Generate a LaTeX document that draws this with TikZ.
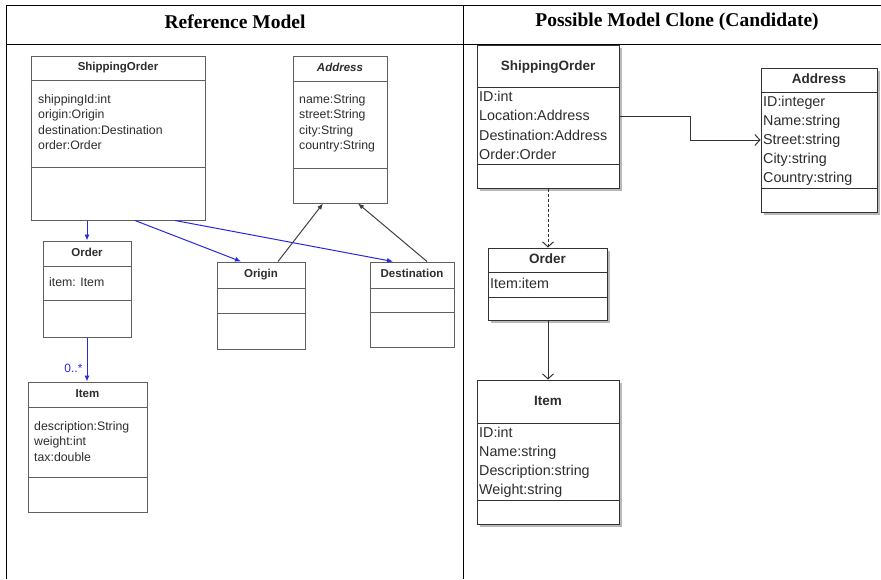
\documentclass[tikz,border=0pt]{standalone}
\usepackage{fontspec}
\setmainfont{Liberation Serif}
\setsansfont{Liberation Sans}
\usetikzlibrary{fit,shadows,arrows.meta,calc}
\definecolor{boxgray}{RGB}{95,95,95}
\definecolor{txtgray}{RGB}{45,45,45}
\definecolor{umlblue}{RGB}{40,40,225}
\definecolor{shadowgray}{RGB}{185,185,185}
\tikzset{
  tableline/.style={draw=black,line width=0.9pt},
  lbox/.style={draw=boxgray,line width=1pt,inner sep=0pt,fill=white},
  rbox/.style={draw=black!80,line width=1pt,inner sep=0pt,fill=white,
    drop shadow={shadow xshift=3pt,shadow yshift=-3pt,fill=shadowgray,opacity=1}},
  lsep/.style={draw=boxgray,line width=1pt},
  rsep/.style={draw=black!80,line width=1pt},
  ltitle/.style={font=\sffamily\bfseries\fontsize{11.5}{13}\selectfont,text=txtgray,inner sep=0pt,text height=8.5pt,text depth=2.5pt},
  lattr/.style={font=\sffamily\fontsize{12.3}{14}\selectfont,text=txtgray,anchor=west,inner sep=0pt,text height=9pt,text depth=2.6pt},
  rtitle/.style={font=\sffamily\bfseries\fontsize{13.5}{15}\selectfont,text=txtgray,inner sep=0pt,text height=10pt,text depth=3pt},
  rattr/.style={font=\sffamily\fontsize{14.3}{16}\selectfont,text=txtgray,anchor=west,inner sep=0pt,text height=10.5pt,text depth=3pt},
  header/.style={font=\bfseries\fontsize{19.5}{22}\selectfont,inner sep=0pt},
  bluearrow/.style={draw=umlblue,line width=1pt,-{Latex[length=6pt,width=5pt]}},
  blackarrow/.style={draw=black!75,line width=1pt,-{Latex[length=6pt,width=5pt]}},
  openarrow/.style={draw=black!80,line width=1pt,-{Straight Barb[length=5pt,width=11pt]}},
}
\begin{document}
\begin{tikzpicture}[x=1pt,y=-1pt]
\useasboundingbox (0,0) rectangle (881,579);
% table
\draw[tableline] (6,5) -- (881,5);
\draw[tableline] (6,44) -- (881,44);
\draw[tableline] (6,5) -- (6,579);
\draw[tableline] (463,5) -- (463,579);
\node[header] (h1) at (235,22) {Reference Model};
\node[header] (h2) at (677,22) {Possible Model Clone (Candidate)};

% ---------- left: reference model ----------
% ShippingOrder
\node[lbox,fit={(31,56) (205,220)}] (so) {};
\draw[lsep] (so.west |- 0,80) -- (so.east |- 0,80);
\draw[lsep] (so.west |- 0,167) -- (so.east |- 0,167);
\node[ltitle] (sot) at ($(so.north)+(0,12)$) {ShippingOrder};
\node[lattr] (so1) at (38,100) {shippingId:int};
\node[lattr] (so2) at (38,115.5) {origin:Origin};
\node[lattr] (so3) at (38,131) {destination:Destination};
\node[lattr] (so4) at (38,146.5) {order:Order};

% Address
\node[lbox,fit={(293,56) (387,203)}] (ad) {};
\draw[lsep] (ad.west |- 0,81) -- (ad.east |- 0,81);
\draw[lsep] (ad.west |- 0,168) -- (ad.east |- 0,168);
\node[ltitle,font=\sffamily\bfseries\itshape\fontsize{11.5}{13}\selectfont] (adt) at ($(ad.north)+(0,13)$) {Address};
\node[lattr] (ad1) at (299,100) {name:String};
\node[lattr] (ad2) at (299,115.5) {street:String};
\node[lattr] (ad3) at (299,131) {city:String};
\node[lattr] (ad4) at (299,146.5) {country:String};

% Order
\node[lbox,fit={(43,241) (131,337)}] (or) {};
\draw[lsep] (or.west |- 0,266) -- (or.east |- 0,266);
\draw[lsep] (or.west |- 0,300) -- (or.east |- 0,300);
\node[ltitle] (ort) at ($(or.north)+(0,12.5)$) {Order};
\node[lattr] (or1) at (49,283) {item: Item};

% Origin
\node[lbox,fit={(217,262) (305,349)}] (og) {};
\draw[lsep] (og.west |- 0,288) -- (og.east |- 0,288);
\draw[lsep] (og.west |- 0,313) -- (og.east |- 0,313);
\node[ltitle] (ogt) at ($(og.north)+(0,13)$) {Origin};

% Destination
\node[lbox,fit={(370,262) (454,347)}] (de) {};
\draw[lsep] (de.west |- 0,288) -- (de.east |- 0,288);
\draw[lsep] (de.west |- 0,312) -- (de.east |- 0,312);
\node[ltitle] (det) at ($(de.north)+(0,13)$) {Destination};

% Item
\node[lbox,fit={(28,382) (147,512)}] (it) {};
\draw[lsep] (it.west |- 0,407) -- (it.east |- 0,407);
\draw[lsep] (it.west |- 0,477) -- (it.east |- 0,477);
\node[ltitle] (itt) at ($(it.north)+(0,13)$) {Item};
\node[lattr] (it1) at (34,427) {description:String};
\node[lattr] (it2) at (34,442.5) {weight:int};
\node[lattr] (it3) at (34,458) {tax:double};

% left connectors
\draw[bluearrow] (so.south -| 87,0) -- (or.north -| 87,0);
\draw[bluearrow] (so.south -| 135,0) -- (og.north -| 241,0);
\draw[bluearrow] (so.south -| 175,0) -- (de.north -| 393,0);
\draw[bluearrow] (or.south -| 87,0) -- node[pos=0.7,left=4pt,text=umlblue,font=\sffamily\fontsize{12}{14}\selectfont,inner sep=0pt] (mult) {0..*} (it.north -| 87,0);
\draw[blackarrow] (og.north -| 278,0) -- (ad.south -| 323,0);
\draw[blackarrow] (de.north -| 427,0) -- (ad.south -| 358,0);

% ---------- right: candidate ----------
% ShippingOrder
\node[rbox,fit={(477,45) (619,188)}] (rso) {};
\draw[rsep] (rso.west |- 0,87) -- (rso.east |- 0,87);
\draw[rsep] (rso.west |- 0,164) -- (rso.east |- 0,164);
\node[rtitle] (rsot) at ($(rso.north)+(0,22)$) {ShippingOrder};
\node[rattr] (rso1) at (479,97.5) {ID:int};
\node[rattr] (rso2) at (479,117) {Location:Address};
\node[rattr] (rso3) at (479,136.5) {Destination:Address};
\node[rattr] (rso4) at (479,155.5) {Order:Order};

% Address
\node[rbox,fit={(761,68) (877,212)}] (rad) {};
\draw[rsep] (rad.west |- 0,92) -- (rad.east |- 0,92);
\draw[rsep] (rad.west |- 0,188) -- (rad.east |- 0,188);
\node[rtitle] (radt) at ($(rad.north)+(0,12.5)$) {Address};
\node[rattr] (rad1) at (763,102.5) {ID:integer};
\node[rattr] (rad2) at (763,121.5) {Name:string};
\node[rattr] (rad3) at (763,140.5) {Street:string};
\node[rattr] (rad4) at (763,159.5) {City:string};
\node[rattr] (rad5) at (763,178.5) {Country:string};

% Order
\node[rbox,fit={(488,248) (607,320)}] (ror) {};
\draw[rsep] (ror.west |- 0,272) -- (ror.east |- 0,272);
\draw[rsep] (ror.west |- 0,297) -- (ror.east |- 0,297);
\node[rtitle] (rort) at ($(ror.north)+(0,12.5)$) {Order};
\node[rattr] (ror1) at (490,285) {Item:item};

% Item
\node[rbox,fit={(477,380) (619,524)}] (rit) {};
\draw[rsep] (rit.west |- 0,423) -- (rit.east |- 0,423);
\draw[rsep] (rit.west |- 0,500) -- (rit.east |- 0,500);
\node[rtitle] (ritt) at ($(rit.north)+(0,22)$) {Item};
\node[rattr] (rit1) at (479,434) {ID:int};
\node[rattr] (rit2) at (479,453) {Name:string};
\node[rattr] (rit3) at (479,472) {Description:string};
\node[rattr] (rit4) at (479,491) {Weight:string};

% right connectors
\coordinate (b1) at (690,116);
\coordinate (b2) at (690,140);
\draw[openarrow] (rso.east |- b1) -- (b1) -- (b2) -- (rad.west |- b2);
\draw[openarrow,dashed,dash pattern=on 3pt off 2pt] (rso.south -| 548,0) -- (ror.north -| 548,0);
\draw[openarrow] (ror.south -| 548,0) -- (rit.north -| 548,0);
\end{tikzpicture}
\end{document}
